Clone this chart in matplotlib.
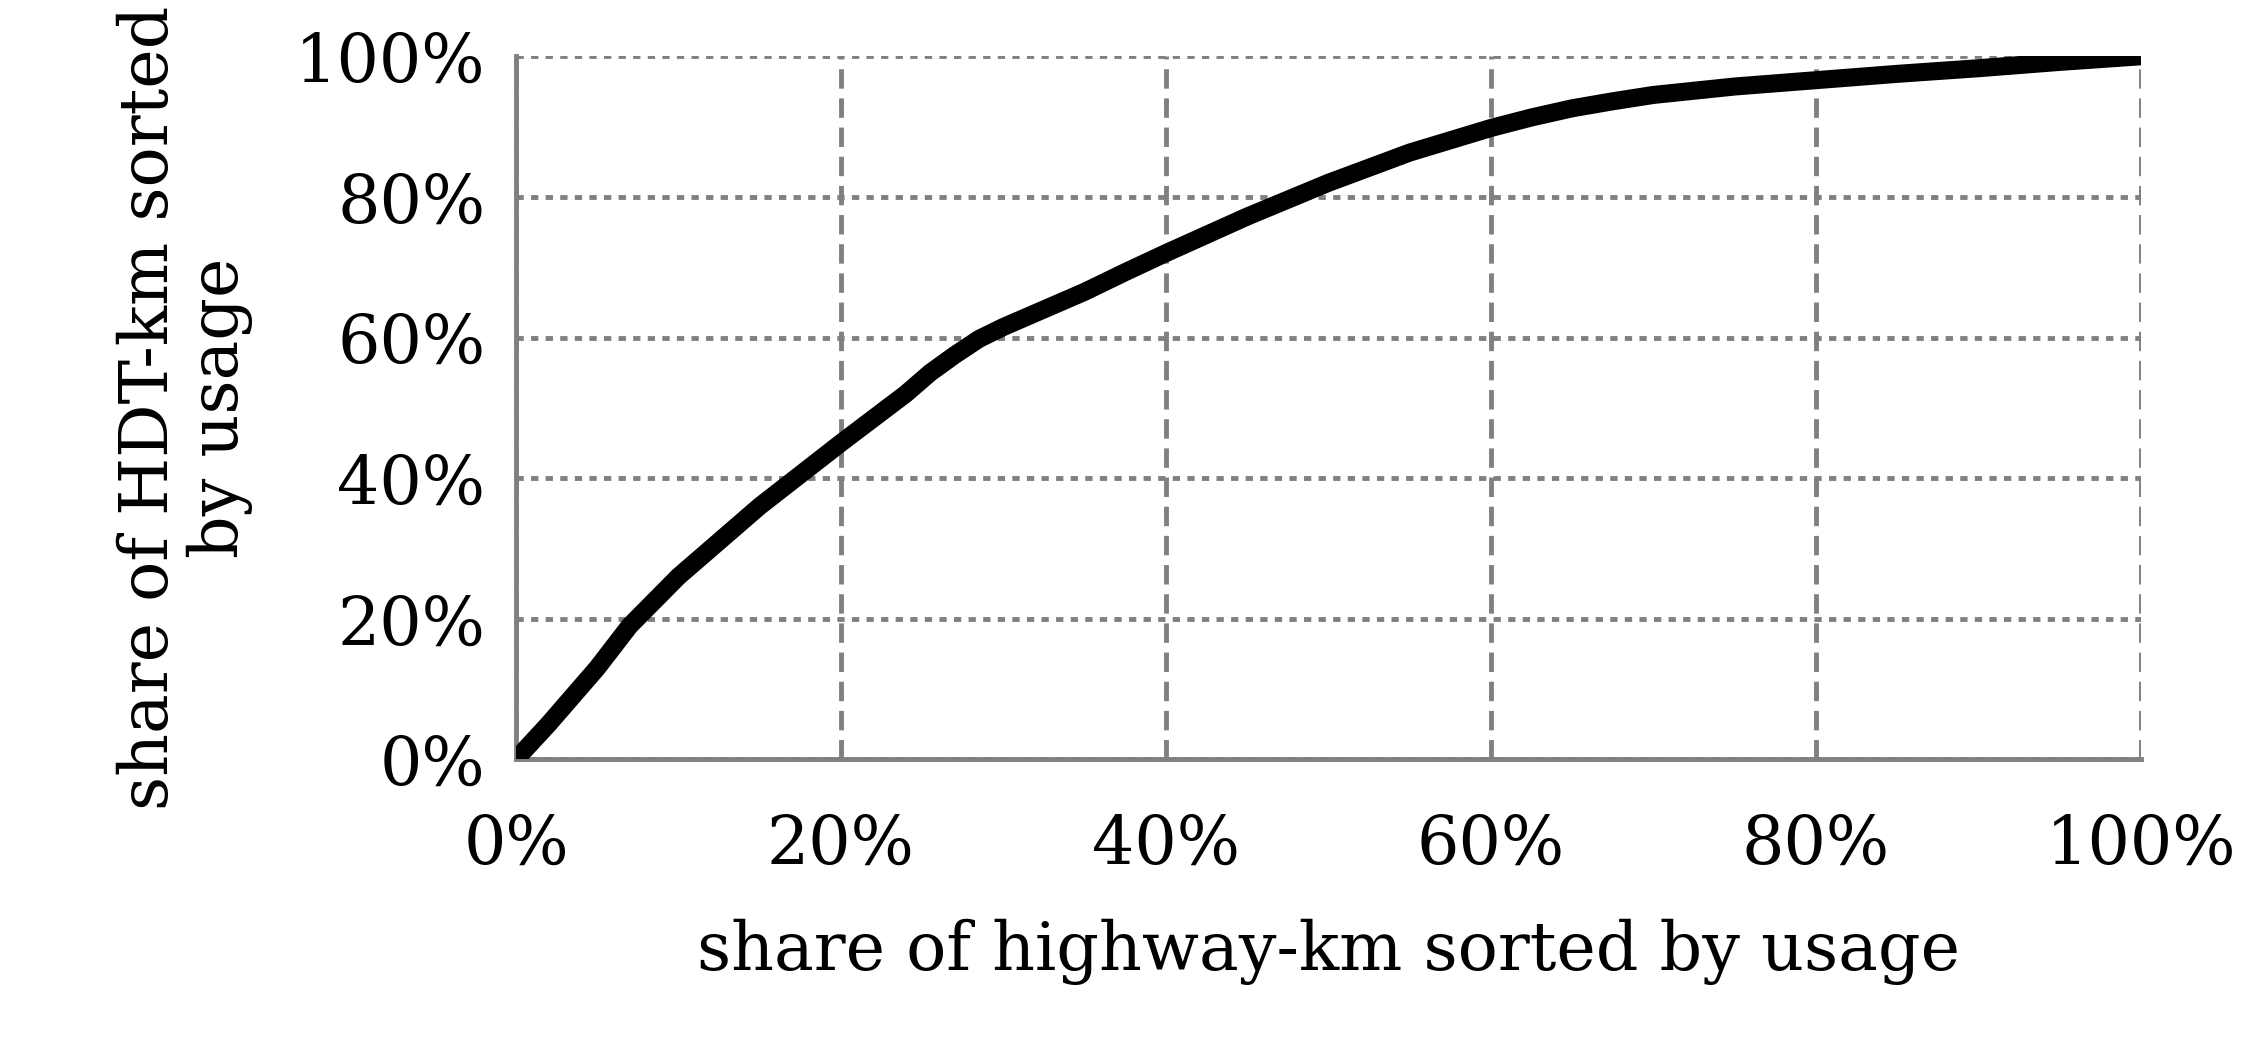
import matplotlib
matplotlib.use("Agg")
import matplotlib.pyplot as plt
from matplotlib.ticker import FuncFormatter

x_share = [0, 1, 2, 3.5, 5, 7, 8.5, 10, 12.5, 15, 17.5, 20, 22, 24, 25.5, 27, 28.5, 30, 32.5, 35, 37.5, 40, 45, 50, 55, 60, 62.5, 65, 67.5, 70, 75, 80, 85, 90, 95, 100]
y_share = [0, 2.5, 5, 9, 13, 19, 22.5, 26, 31, 36, 40.5, 45, 48.5, 52, 55, 57.5, 59.8, 61.5, 64, 66.5, 69.3, 72, 77.2, 82, 86.3, 89.8, 91.3, 92.6, 93.6, 94.5, 95.7, 96.6, 97.5, 98.3, 99.2, 100]
ticks = [0, 20, 40, 60, 80, 100]

plt.rcParams['font.family'] = ['DejaVu Serif']
fig = plt.figure(figsize=(22.63, 10.62), dpi=100)
ax = fig.add_axes([0.228, 0.285, 0.718, 0.662])
ax.plot(x_share, y_share, color='black', lw=13, solid_capstyle='butt', solid_joinstyle='round', zorder=3)
ax.set_xlim(0, 100); ax.set_ylim(0, 100)
ax.set_xticks(ticks); ax.set_yticks(ticks)
fmt = FuncFormatter(lambda v, p: f"{int(v)}%")
ax.xaxis.set_major_formatter(fmt); ax.yaxis.set_major_formatter(fmt)
ax.tick_params(labelsize=48, length=0)
ax.tick_params(axis='x', pad=38)
ax.tick_params(axis='y', pad=22)
ax.xaxis.grid(True, color='#808080', ls=(0, (4, 2)), lw=3.5)
ax.yaxis.grid(True, color='#808080', ls=(0, (1.5, 1.5)), lw=3.5)
for s in ['top', 'right']:
    ax.spines[s].set_visible(False)
for s in ['left', 'bottom']:
    ax.spines[s].set_color('#808080'); ax.spines[s].set_linewidth(3.5)
ax.set_xlabel('share of highway-km sorted by usage', fontsize=48, labelpad=30)
ax.set_ylabel('share of HDT-km sorted\nby usage', fontsize=48, labelpad=30, linespacing=1.1)
fig.savefig('out.png', dpi=100)
